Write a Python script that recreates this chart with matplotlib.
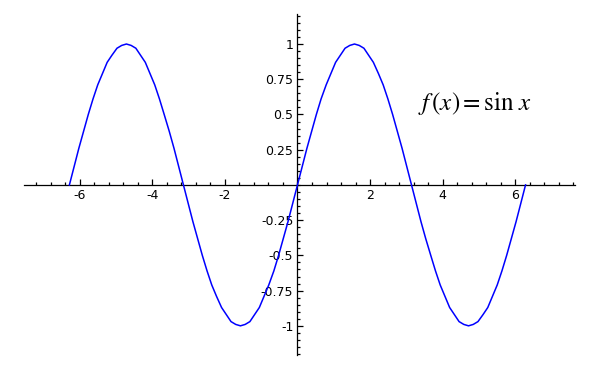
import matplotlib
matplotlib.use("Agg")
import matplotlib.pyplot as plt
from matplotlib.ticker import FixedLocator, FixedFormatter, MultipleLocator

# curve points (f(x) = sin x, -2pi .. 2pi)
x_pts = [-6.28, -6.15, -6.02, -5.89, -5.76, -5.63, -5.50, -5.37, -5.24, -5.11,
         -4.97, -4.84, -4.71, -4.58, -4.45, -4.32, -4.19, -4.06, -3.93, -3.80,
         -3.67, -3.53, -3.40, -3.27, -3.14, -3.01, -2.88, -2.75, -2.62, -2.49,
         -2.36, -2.23, -2.09, -1.96, -1.83, -1.70, -1.57, -1.44, -1.31, -1.18,
         -1.05, -0.92, -0.79, -0.65, -0.52, -0.39, -0.26, -0.13, 0.00,
         0.13, 0.26, 0.39, 0.52, 0.65, 0.79, 0.92, 1.05, 1.18, 1.31,
         1.44, 1.57, 1.70, 1.83, 1.96, 2.09, 2.23, 2.36, 2.49, 2.62,
         2.75, 2.88, 3.01, 3.14, 3.27, 3.40, 3.53, 3.67, 3.80, 3.93,
         4.06, 4.19, 4.32, 4.45, 4.58, 4.71, 4.84, 4.97, 5.11, 5.24,
         5.37, 5.50, 5.63, 5.76, 5.89, 6.02, 6.15, 6.28]
y_pts = [0.00, 0.13, 0.26, 0.38, 0.50, 0.61, 0.71, 0.79, 0.87, 0.92,
         0.97, 0.99, 1.00, 0.99, 0.97, 0.92, 0.87, 0.79, 0.71, 0.61,
         0.50, 0.38, 0.26, 0.13, 0.00, -0.13, -0.26, -0.38, -0.50, -0.61,
         -0.71, -0.79, -0.87, -0.92, -0.97, -0.99, -1.00, -0.99, -0.97, -0.92,
         -0.87, -0.79, -0.71, -0.61, -0.50, -0.38, -0.26, -0.13, 0.00,
         0.13, 0.26, 0.38, 0.50, 0.61, 0.71, 0.79, 0.87, 0.92, 0.97,
         0.99, 1.00, 0.99, 0.97, 0.92, 0.87, 0.79, 0.71, 0.61, 0.50,
         0.38, 0.26, 0.13, 0.00, -0.13, -0.26, -0.38, -0.50, -0.61, -0.71,
         -0.79, -0.87, -0.92, -0.97, -0.99, -1.00, -0.99, -0.97, -0.92, -0.87,
         -0.79, -0.71, -0.61, -0.50, -0.38, -0.26, -0.13, 0.00]

# tick positions and labels
x_ticks = [-6, -4, -2, 2, 4, 6]
x_labels = ["-6", "-4", "-2", "2", "4", "6"]
y_ticks = [-1, -0.75, -0.5, -0.25, 0.25, 0.5, 0.75, 1]
y_labels = ["-1", "-0.75", "-0.5", "-0.25", "0.25", "0.5", "0.75", "1"]

fig = plt.figure(figsize=(6, 3.7), dpi=100)
ax = fig.add_axes([24 / 600, 15 / 370, 551.3 / 600, 341 / 370])

ax.plot(x_pts, y_pts, color="blue", lw=1.1, zorder=3)

ax.set_xlim(-7.53, 7.65)
ax.set_ylim(-1.207, 1.213)

# axes through the origin
for side in ["top", "right"]:
    ax.spines[side].set_visible(False)
ax.spines["left"].set_position(("data", 0))
ax.spines["bottom"].set_position(("data", 0))
ax.spines["left"].set_linewidth(0.9)
ax.spines["bottom"].set_linewidth(0.9)

ax.xaxis.set_major_locator(FixedLocator(x_ticks))
ax.xaxis.set_major_formatter(FixedFormatter(x_labels))
ax.yaxis.set_major_locator(FixedLocator(y_ticks))
ax.yaxis.set_major_formatter(FixedFormatter(y_labels))
ax.xaxis.set_minor_locator(MultipleLocator(0.4))
ax.yaxis.set_minor_locator(MultipleLocator(0.05))

ax.tick_params(which="both", direction="in", width=0.9, labelsize=9)
ax.tick_params(which="major", length=4)
ax.tick_params(which="minor", length=2)
ax.tick_params(axis="x", which="major", pad=3)
ax.tick_params(axis="y", which="major", pad=3)

plt.rcParams["mathtext.fontset"] = "stix"
ax.text(4.89, 0.58, r"$f\,(x) = \sin\,x$", fontsize=18, ha="center",
        va="center", color="black")

fig.savefig("out.png", dpi=100)
